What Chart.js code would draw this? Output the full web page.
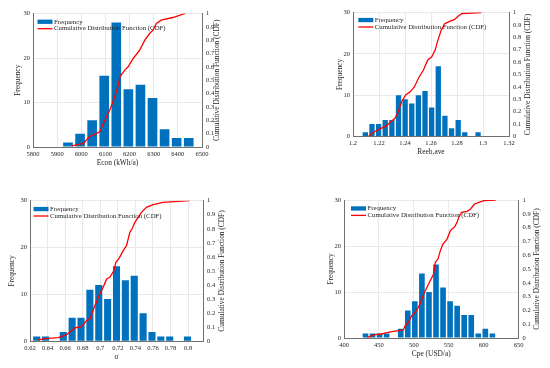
<!DOCTYPE html>
<html lang="en">
<head>
  <meta charset="UTF-8" />
  <title>Frequency histograms with CDF</title>
  <script src="https://cdn.jsdelivr.net/npm/chart.js"></script>
  <style>
    body { margin: 0; background: #ffffff; }
    .panel { position: absolute; width: 275px; height: 184px; }
  </style>
</head>
<body>
  <div class="panel" style="left:0;top:0"><canvas id="econChart" width="275" height="184"></canvas></div>
  <div class="panel" style="left:275px;top:0"><canvas id="reebChart" width="275" height="184"></canvas></div>
  <div class="panel" style="left:0;top:184px"><canvas id="sigmaChart" width="275" height="184"></canvas></div>
  <div class="panel" style="left:275px;top:184px"><canvas id="cpeChart" width="275" height="184"></canvas></div>

  <script>
    // --- Econ (kWh/a)
    const econBins = [5945, 5995, 6045, 6095, 6145, 6195, 6245, 6295, 6345, 6395, 6445];
    const econFreq = [1, 3, 6, 16, 28, 13, 14, 11, 4, 2, 2];
    const econCdfX = [5961, 6009, 6033, 6064, 6077, 6098, 6118, 6139, 6153, 6160, 6180, 6194, 6215, 6242, 6263, 6283, 6297, 6311, 6331, 6379, 6430];
    const econCdfY = [0.008, 0.027, 0.077, 0.102, 0.115, 0.202, 0.277, 0.377, 0.464, 0.526, 0.576, 0.601, 0.663, 0.726, 0.8, 0.85, 0.875, 0.925, 0.95, 0.97, 1];
    const econTicks = [5800, 5900, 6000, 6100, 6200, 6300, 6400, 6500];

    // --- Reeb,ave
    const reebBins = [1.2095, 1.2146, 1.2197, 1.2248, 1.2299, 1.2350, 1.2401, 1.2452, 1.2503, 1.2554, 1.2605, 1.2656, 1.2707, 1.2758, 1.2809, 1.2860, 1.2911, 1.2962];
    const reebFreq = [1, 3, 3, 4, 4, 10, 9, 8, 10, 11, 7, 17, 5, 2, 4, 1, 0, 1];
    const reebCdfX = [1.2121, 1.2168, 1.2219, 1.2258, 1.2284, 1.2323, 1.2348, 1.2374, 1.2405, 1.2439, 1.2472, 1.2503, 1.2542, 1.2575, 1.2606, 1.2632, 1.2653, 1.2679, 1.2705, 1.2735, 1.2782, 1.2808, 1.2839, 1.2988];
    const reebCdfY = [0.005, 0.04, 0.067, 0.086, 0.113, 0.147, 0.2, 0.28, 0.335, 0.36, 0.4, 0.47, 0.536, 0.617, 0.643, 0.697, 0.777, 0.858, 0.91, 0.925, 0.944, 0.97, 0.992, 1];
    const reebTicks = [1.2, 1.22, 1.24, 1.26, 1.28, 1.3, 1.32];

    // --- sigma
    const sigmaBins = [0.6276, 0.6377, 0.6478, 0.6579, 0.6680, 0.6781, 0.6882, 0.6983, 0.7084, 0.7185, 0.7286, 0.7387, 0.7488, 0.7589, 0.7690, 0.7791, 0.7892, 0.7993];
    const sigmaFreq = [1, 1, 0, 2, 5, 5, 11, 12, 9, 16, 13, 14, 6, 2, 1, 1, 0, 1];
    const sigmaCdfX = [0.6287, 0.6371, 0.6522, 0.6617, 0.6674, 0.6712, 0.6787, 0.6844, 0.6882, 0.6939, 0.6996, 0.7041, 0.7072, 0.7109, 0.7155, 0.7178, 0.7216, 0.7261, 0.7299, 0.7337, 0.7367, 0.7394, 0.7432, 0.7469, 0.7526, 0.7602, 0.7716, 0.8019];
    const sigmaCdfY = [0.01, 0.019, 0.026, 0.047, 0.076, 0.095, 0.104, 0.147, 0.159, 0.254, 0.336, 0.396, 0.443, 0.455, 0.502, 0.562, 0.592, 0.645, 0.68, 0.775, 0.806, 0.846, 0.882, 0.917, 0.953, 0.972, 0.988, 1];
    const sigmaTicks = [0.62, 0.64, 0.66, 0.68, 0.7, 0.72, 0.74, 0.76, 0.78, 0.8];

    // --- Cpe (USD/a)
    const cpeBins = [430.8, 440.9, 451.0, 461.1, 471.2, 481.3, 491.4, 501.5, 511.6, 521.7, 531.8, 541.9, 552.0, 562.1, 572.2, 582.3, 592.4, 602.5, 612.6];
    const cpeFreq = [1, 1, 1, 1, 0, 2, 6, 8, 14, 10, 16, 11, 8, 7, 5, 5, 1, 2, 1];
    const cpeCdfX = [433.7, 444.2, 453.8, 458.7, 468.3, 485.1, 487.5, 492.3, 497.1, 501.9, 506.7, 511.5, 515.4, 521.2, 528.4, 530.8, 534.6, 538, 541.8, 547.6, 552.4, 558.7, 562, 564.4, 568.3, 576.4, 581.3, 587, 593.3, 600.5, 617.3];
    const cpeCdfY = [0.005, 0.024, 0.029, 0.036, 0.046, 0.058, 0.089, 0.114, 0.162, 0.186, 0.222, 0.283, 0.331, 0.391, 0.464, 0.548, 0.572, 0.633, 0.681, 0.717, 0.778, 0.807, 0.838, 0.874, 0.911, 0.918, 0.935, 0.971, 0.983, 0.995, 1];
    const cpeTicks = [400, 450, 500, 550, 600, 650];

    const freqTicks = [0, 10, 20, 30];
    const cdfTicks = [0, 0.1, 0.2, 0.3, 0.4, 0.5, 0.6, 0.7, 0.8, 0.9, 1];

    const BLUE = '#0072BD';
    const RED = '#FF0000';
    const TEXT = '#262626';
    const AXIS = '#707070';
    const GRID = '#e9e9e9';
    const FONT = '"Liberation Serif", "Times New Roman", serif';

    Chart.defaults.font.family = FONT;
    Chart.defaults.color = TEXT;

    const fmt = v => String(Number(v.toFixed(4)));

    // axis titles + legend, drawn relative to the plot area
    const decorPlugin = {
      id: 'decor',
      afterDraw(chart, args, o) {
        const { ctx, chartArea: a } = chart;
        const midY = (a.top + a.bottom) / 2;
        ctx.save();
        ctx.fillStyle = TEXT;
        ctx.textAlign = 'center';
        ctx.textBaseline = 'middle';
        ctx.font = '7.4px ' + FONT;
        ctx.fillText(o.xTitle, (a.left + a.right) / 2, a.bottom + o.gaps[2]);
        [[a.left - o.gaps[0], 'Frequency'], [a.right + o.gaps[1], 'Cumulative Distribution Function (CDF)']].forEach(([x, t]) => {
          ctx.save();
          ctx.translate(x, midY);
          ctx.rotate(-Math.PI / 2);
          ctx.fillText(t, 0, 0);
          ctx.restore();
        });
        // legend
        const lx = a.left + o.legend[0], ly = a.top + o.legend[1];
        const row = 6.9;
        ctx.fillStyle = BLUE;
        ctx.fillRect(lx, ly - 2.2, 15, 4.3);
        ctx.strokeStyle = RED;
        ctx.lineWidth = 1.3;
        ctx.beginPath();
        ctx.moveTo(lx, ly + row);
        ctx.lineTo(lx + 15, ly + row);
        ctx.stroke();
        ctx.fillStyle = TEXT;
        ctx.textAlign = 'left';
        ctx.font = '6.8px ' + FONT;
        ctx.fillText('Frequency', lx + 16.5, ly);
        ctx.fillText('Cumulative Distribution Function (CDF)', lx + 16.5, ly + row);
        ctx.restore();
      }
    };

    function makePanel(id, p) {
      const bars = p.bins.map((x, i) => ({ x, y: p.freq[i] }));
      const cdf = p.cdfX.map((x, i) => ({ x, y: p.cdfY[i] }));
      const tickFont = { size: 6.5 };
      return new Chart(document.getElementById(id), {
        type: 'bar',
        data: {
          datasets: [
            { type: 'line', label: 'CDF', data: cdf, yAxisID: 'y1', borderColor: RED, borderWidth: 1.3, pointRadius: 0, tension: 0, order: 0 },
            { label: 'Frequency', data: bars, yAxisID: 'y', backgroundColor: BLUE, barPercentage: 0.8, categoryPercentage: 1, order: 1 }
          ]
        },
        options: {
          responsive: false,
          animation: false,
          layout: { padding: { top: p.box[1], left: 0, right: 0, bottom: 0 } },
          plugins: {
            legend: { display: false },
            tooltip: { enabled: false },
            decor: { xTitle: p.xTitle, gaps: p.gaps, legend: p.legend }
          },
          scales: {
            x: {
              type: 'linear', min: p.xMin, max: p.xMax, offset: false,
              grid: { offset: false, color: GRID, drawTicks: false },
              border: { color: AXIS },
              ticks: { font: tickFont, padding: 3, maxRotation: 0, autoSkip: false, callback: fmt },
              afterBuildTicks: s => { s.ticks = p.xTicks.map(v => ({ value: v })); },
              afterFit: s => { s.height = p.box[3]; }
            },
            y: {
              position: 'left', min: 0, max: 30,
              grid: { color: GRID, drawTicks: false },
              border: { color: AXIS },
              ticks: { font: tickFont, padding: 3, callback: fmt },
              afterBuildTicks: s => { s.ticks = freqTicks.map(v => ({ value: v })); },
              afterFit: s => { s.width = p.box[0]; }
            },
            y1: {
              position: 'right', min: 0, max: 1,
              grid: { display: false, drawTicks: false },
              border: { color: AXIS },
              ticks: { font: tickFont, padding: 4, callback: fmt },
              afterBuildTicks: s => { s.ticks = cdfTicks.map(v => ({ value: v })); },
              afterFit: s => { s.width = p.box[2]; }
            }
          }
        },
        plugins: [decorPlugin]
      });
    }

    // box: [left axis width, top pad, right axis width, bottom axis height]
    makePanel('econChart', {
      bins: econBins, freq: econFreq, cdfX: econCdfX, cdfY: econCdfY, xTicks: econTicks,
      xMin: 5800, xMax: 6500, xTitle: 'Econ (kWh/a)',
      box: [33, 13.5, 73, 37], gaps: [15, 15, 16], legend: [4.5, 8.3]
    });
    makePanel('reebChart', {
      bins: reebBins, freq: reebFreq, cdfX: reebCdfX, cdfY: reebCdfY, xTicks: reebTicks,
      xMin: 1.2, xMax: 1.32, xTitle: 'Reeb,ave',
      box: [78, 12.5, 41, 47.5], gaps: [12.5, 19.5, 15.5], legend: [5.3, 7.6]
    });
    makePanel('sigmaChart', {
      bins: sigmaBins, freq: sigmaFreq, cdfX: sigmaCdfX, cdfY: sigmaCdfY, xTicks: sigmaTicks,
      xMin: 0.62, xMax: 0.817, xTitle: 'σ',
      box: [30, 16.7, 72, 26.7], gaps: [17.5, 18.7, 15.5], legend: [3.5, 8.4]
    });
    makePanel('cpeChart', {
      bins: cpeBins, freq: cpeFreq, cdfX: cpeCdfX, cdfY: cpeCdfY, xTicks: cpeTicks,
      xMin: 400, xMax: 650, xTitle: 'Cpe (USD/a)',
      box: [69, 16, 31.5, 30], gaps: [12.5, 18.2, 16], legend: [7, 8.5]
    });
  </script>
</body>
</html>
